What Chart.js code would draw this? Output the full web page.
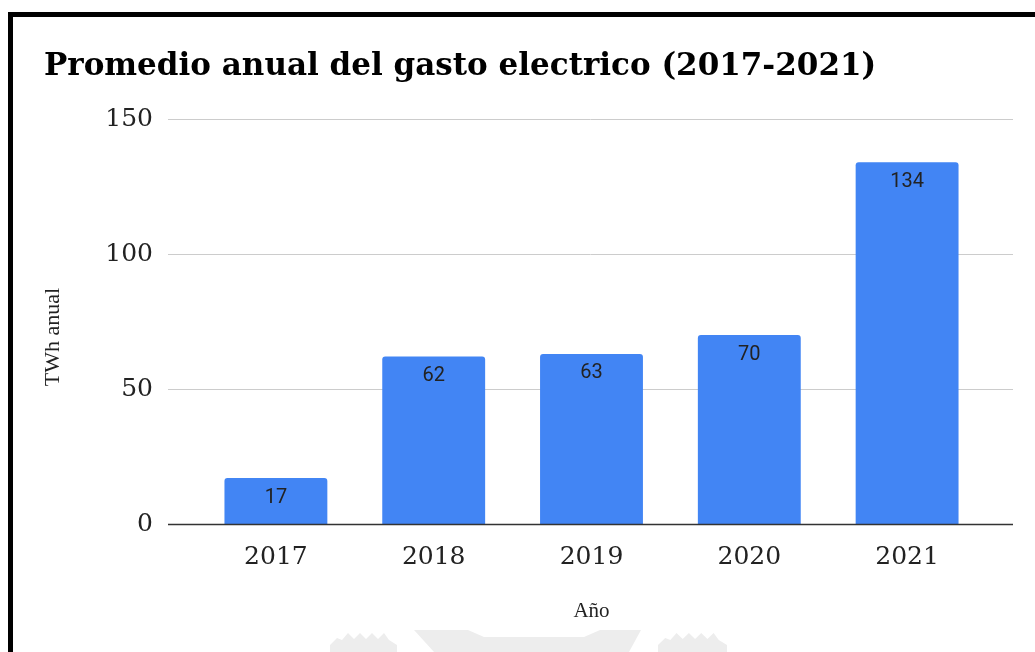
<!DOCTYPE html>
<html>
<head>
<meta charset="utf-8">
<title>Promedio anual del gasto electrico</title>
<script src="https://cdn.jsdelivr.net/npm/chart.js@4.4.0/dist/chart.umd.min.js"></script>
<style>
    html, body { margin: 0; padding: 0; background: #fff; }
    #wrap { position: relative; width: 1035px; height: 652px; overflow: hidden; }
    #myChart { position: absolute; left: 0; top: 0; }
    #frame {
        position: absolute; left: 8px; top: 12px; width: 1100px; height: 700px;
        border-left: 5px solid #000; border-top: 5px solid #000; pointer-events: none;
    }
</style>
</head>
<body>
<div id="wrap">
    <canvas id="myChart" width="1035" height="652"></canvas>
    <div id="frame"></div>
</div>
<script>
const years = ['2017', '2018', '2019', '2020', '2021'];
const twhValues = [17, 62, 63, 70, 134];
const yTicks = [0, 50, 100, 150];
const yTitle = 'TWh anual';

const BAR_BLUE = '#4285f4';

// grid lines run past the bars on both sides, like the original sheet chart
const gridPlugin = {
    id: 'gridPlugin',
    beforeDraw(chart) {
        // faint watermark at the bottom
        const ctx = chart.ctx;
        ctx.save();
        ctx.fillStyle = '#ededed';
        const crenel = function (x0, w) {
            const s = w / 67;
            ctx.beginPath();
            ctx.moveTo(x0, 645);
            ctx.lineTo(x0 + 7 * s, 638);
            ctx.lineTo(x0 + 12 * s, 640);
            ctx.lineTo(x0 + 18 * s, 633);
            ctx.lineTo(x0 + 24 * s, 639);
            ctx.lineTo(x0 + 30 * s, 633);
            ctx.lineTo(x0 + 36 * s, 639);
            ctx.lineTo(x0 + 42 * s, 633);
            ctx.lineTo(x0 + 48 * s, 639);
            ctx.lineTo(x0 + 54 * s, 633);
            ctx.lineTo(x0 + 59 * s, 640);
            ctx.lineTo(x0 + 67 * s, 645);
            ctx.lineTo(x0 + 67 * s, 652);
            ctx.lineTo(x0, 652);
            ctx.closePath();
            ctx.fill();
        };
        crenel(330, 67);
        crenel(658, 69);
        ctx.beginPath();
        ctx.moveTo(414, 630);
        ctx.lineTo(468, 630);
        ctx.lineTo(484, 637);
        ctx.lineTo(584, 637);
        ctx.lineTo(600, 630);
        ctx.lineTo(641, 630);
        ctx.lineTo(629, 652);
        ctx.lineTo(434, 652);
        ctx.closePath();
        ctx.fill();
        ctx.restore();
    },
    beforeDatasetsDraw(chart) {
        const {ctx, chartArea, scales} = chart;
        ctx.save();
        ctx.strokeStyle = '#cccccc';
        ctx.lineWidth = 1;
        scales.y.ticks.forEach(function (t) {
            if (t.value === 0) return;
            const py = Math.round(scales.y.getPixelForValue(t.value)) + 0.5;
            ctx.beginPath();
            ctx.moveTo(chartArea.left - 29, py);
            ctx.lineTo(chartArea.right + 27, py);
            ctx.stroke();
        });
        // y axis title, centred a bit lower than the plot like the source chart
        ctx.fillStyle = '#222222';
        ctx.font = '22px "Liberation Serif"';
        ctx.textAlign = 'center';
        ctx.textBaseline = 'middle';
        ctx.translate(53, 337);
        ctx.rotate(-Math.PI / 2);
        ctx.fillText(yTitle, 0, 0);
        ctx.restore();
    },
    afterDatasetsDraw(chart) {
        const {ctx, chartArea, scales} = chart;
        ctx.save();
        // zero line
        const py = Math.round(scales.y.getPixelForValue(0)) + 0.5;
        ctx.strokeStyle = '#333333';
        ctx.lineWidth = 1.3;
        ctx.beginPath();
        ctx.moveTo(chartArea.left - 29, py);
        ctx.lineTo(chartArea.right + 27, py);
        ctx.stroke();
        // value labels inside the bars
        ctx.fillStyle = '#222222';
        ctx.font = '20px Roboto';
        ctx.textAlign = 'center';
        ctx.textBaseline = 'alphabetic';
        chart.getDatasetMeta(0).data.forEach(function (bar, i) {
            ctx.fillText(String(twhValues[i]), bar.x, bar.y + 24.5);
        });
        ctx.restore();
    }
};

const data = {
    labels: years,
    datasets: [{
        label: yTitle,
        data: twhValues,
        backgroundColor: BAR_BLUE,
        borderSkipped: 'bottom',
        borderRadius: {topLeft: 3, topRight: 3, bottomLeft: 0, bottomRight: 0},
        categoryPercentage: 1,
        barPercentage: 0.652
    }]
};

const config = {
    type: 'bar',
    data: data,
    plugins: [gridPlugin],
    options: {
        responsive: false,
        animation: false,
        devicePixelRatio: 1,
        layout: {
            padding: {left: 44, top: 0, right: 49, bottom: 0}
        },
        plugins: {
            legend: {display: false},
            tooltip: {enabled: false},
            title: {
                display: true,
                text: 'Promedio anual del gasto electrico (2017-2021)',
                align: 'start',
                color: '#000',
                font: {family: 'DejaVu Serif', size: 31, weight: 'bold', lineHeight: 1.2},
                padding: {top: 48, bottom: 33.8}
            }
        },
        scales: {
            x: {
                grid: {display: false, drawTicks: false},
                border: {display: false},
                ticks: {
                    color: '#222',
                    font: {family: 'DejaVu Serif', size: 25},
                    padding: 18,
                    maxRotation: 0
                },
                title: {
                    display: true,
                    text: 'Año',
                    color: '#222',
                    font: {family: 'Liberation Serif', size: 21, lineHeight: 1.2},
                    padding: {top: 0, bottom: 28}
                },
                afterFit: function (scale) { scale.height = 128; }
            },
            y: {
                min: 0,
                max: 150,
                afterBuildTicks: function (scale) {
                    scale.ticks = yTicks.map(function (v) { return {value: v}; });
                },
                grid: {display: false, drawTicks: false},
                border: {display: false},
                ticks: {
                    color: '#222',
                    font: {family: 'DejaVu Serif', size: 25},
                    padding: 44
                },
                title: {display: false},
                afterFit: function (scale) { scale.width = 153; }
            }
        }
    }
};

function drawChart() {
    const myChart = new Chart(document.getElementById('myChart'), config);
}

drawChart();
</script>
</body>
</html>
